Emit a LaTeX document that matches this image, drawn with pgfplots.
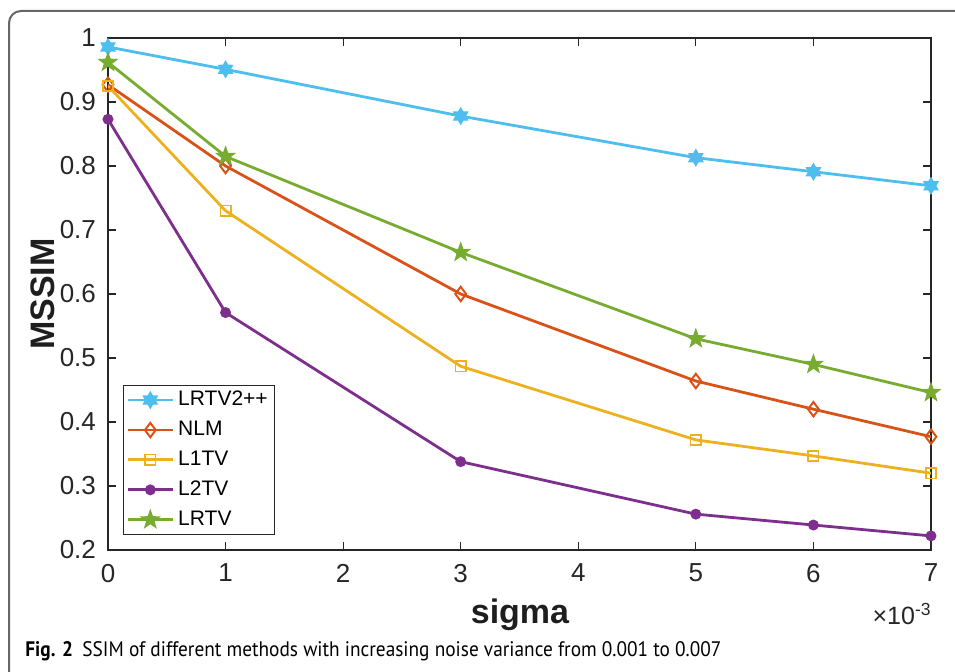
\documentclass[border=0pt]{standalone}
\usepackage{fontspec}
\setmainfont{Liberation Sans}
\newfontfamily\capfont[FakeStretch=0.92]{PT Sans}
\usepackage{pgfplots}
\pgfplotsset{compat=1.18}

\definecolor{cLR}{RGB}{77,190,238}
\definecolor{cNLM}{RGB}{217,83,25}
\definecolor{cL1}{RGB}{237,177,32}
\definecolor{cL2}{RGB}{126,47,142}
\definecolor{cLRTV}{RGB}{119,172,48}
\definecolor{axgray}{RGB}{38,38,38}

% filled five- and six-pointed stars
\pgfdeclareplotmark{pentagram}{%
  \pgfpathmoveto{\pgfpointpolar{90}{\pgfplotmarksize}}%
  \pgfpathlineto{\pgfpointpolar{126}{0.40\pgfplotmarksize}}%
  \pgfpathlineto{\pgfpointpolar{162}{\pgfplotmarksize}}%
  \pgfpathlineto{\pgfpointpolar{198}{0.40\pgfplotmarksize}}%
  \pgfpathlineto{\pgfpointpolar{234}{\pgfplotmarksize}}%
  \pgfpathlineto{\pgfpointpolar{270}{0.40\pgfplotmarksize}}%
  \pgfpathlineto{\pgfpointpolar{306}{\pgfplotmarksize}}%
  \pgfpathlineto{\pgfpointpolar{342}{0.40\pgfplotmarksize}}%
  \pgfpathlineto{\pgfpointpolar{18}{\pgfplotmarksize}}%
  \pgfpathlineto{\pgfpointpolar{54}{0.40\pgfplotmarksize}}%
  \pgfpathclose\pgfusepathqfillstroke}
\pgfdeclareplotmark{hexagram}{%
  \pgfpathmoveto{\pgfpointpolar{90}{\pgfplotmarksize}}%
  \pgfpathlineto{\pgfpointpolar{120}{0.58\pgfplotmarksize}}%
  \pgfpathlineto{\pgfpointpolar{150}{\pgfplotmarksize}}%
  \pgfpathlineto{\pgfpointpolar{180}{0.58\pgfplotmarksize}}%
  \pgfpathlineto{\pgfpointpolar{210}{\pgfplotmarksize}}%
  \pgfpathlineto{\pgfpointpolar{240}{0.58\pgfplotmarksize}}%
  \pgfpathlineto{\pgfpointpolar{270}{\pgfplotmarksize}}%
  \pgfpathlineto{\pgfpointpolar{300}{0.58\pgfplotmarksize}}%
  \pgfpathlineto{\pgfpointpolar{330}{\pgfplotmarksize}}%
  \pgfpathlineto{\pgfpointpolar{0}{0.58\pgfplotmarksize}}%
  \pgfpathlineto{\pgfpointpolar{30}{\pgfplotmarksize}}%
  \pgfpathlineto{\pgfpointpolar{60}{0.58\pgfplotmarksize}}%
  \pgfpathclose\pgfusepathqfillstroke}

\begin{document}
\begin{tikzpicture}
\useasboundingbox (0,0) rectangle (477.5pt,336pt);
\draw[gray!80!black, line width=1pt, rounded corners=6pt]
  (4.5pt,-2pt) -- (4.5pt,330.5pt) -- (480pt,330.5pt);

\begin{axis}[
    name=main,
    anchor=south west,
    at={(54pt,61pt)},
    scale only axis,
    width=411.5pt,
    height=256pt,
    xmin=0, xmax=7,
    ymin=0.2, ymax=1,
    xtick={0,1,2,3,4,5,6,7},
    ytick={0.2,0.3,0.4,0.5,0.6,0.7,0.8,0.9,1},
    yticklabels={0.2,0.3,0.4,0.5,0.6,0.7,0.8,0.9,1},
    tick align=inside,
    major tick length=4pt,
    axis line style={axgray, line width=0.6pt},
    every tick/.style={axgray, line width=0.6pt},
    tick label style={font=\fontsize{13}{13}\selectfont, text=axgray},
    xticklabel style={yshift=-3.5pt},
    yticklabel style={xshift=-2.5pt},
    /pgf/number format/assume math mode=true,
    every axis plot/.append style={line width=1.4pt},
    legend cell align=left,
    legend style={at={(0.018,0.029)}, anchor=south west,
      font=\fontsize{10.5}{10.5}\selectfont, draw=axgray, line width=0.6pt,
      inner xsep=1.5pt, inner ysep=1pt, row sep=2.2pt},
    legend image code/.code={%
      \draw[mark repeat=2, mark phase=2]
        plot coordinates {(0pt,0pt) (11.25pt,0pt) (22.5pt,0pt)};},
]
\addplot[cLR, mark=hexagram, mark size=4pt, mark options={fill=cLR, line width=0.6pt}]
  coordinates {(0,0.986) (1,0.951) (3,0.878) (5,0.813) (6,0.791) (7,0.769)};
\addlegendentry{LRTV2++}
\addplot[cNLM, mark=diamond, mark size=3.6pt, mark options={line width=1pt}]
  coordinates {(0,0.927) (1,0.800) (3,0.600) (5,0.464) (6,0.420) (7,0.377)};
\addlegendentry{NLM}
\addplot[cL1, mark=square, mark size=2.6pt, mark options={line width=0.8pt}]
  coordinates {(0,0.925) (1,0.730) (3,0.487) (5,0.372) (6,0.347) (7,0.320)};
\addlegendentry{L1TV}
\addplot[cL2, mark=*, mark size=2pt, mark options={fill=cL2}]
  coordinates {(0,0.873) (1,0.571) (3,0.338) (5,0.256) (6,0.239) (7,0.222)};
\addlegendentry{L2TV}
\addplot[cLRTV, mark=pentagram, mark size=4.8pt, mark options={fill=cLRTV, line width=0.5pt}]
  coordinates {(0,0.962) (1,0.815) (3,0.665) (5,0.530) (6,0.490) (7,0.446)};
\addlegendentry{LRTV}
\end{axis}

\node[font=\fontsize{17}{17}\selectfont\bfseries, text=axgray!80!black] at (260pt,28.5pt) {sigma};
\node[font=\fontsize{17}{17}\selectfont\bfseries, rotate=90, text=axgray!80!black] at (21.5pt,189pt) {MSSIM};
\node[font=\fontsize{12.5}{13}\selectfont, text=axgray, anchor=east, inner sep=0pt] at (466pt,29pt) {×10\textsuperscript{-3}};
\node[font=\capfont\fontsize{10.5}{12}\selectfont, anchor=base west, inner sep=0pt] at (12.5pt,7.5pt)
  {\textbf{Fig. 2}\hspace{0.45em}SSIM of different methods with increasing noise variance from 0.001 to 0.007};
\end{tikzpicture}
\end{document}
